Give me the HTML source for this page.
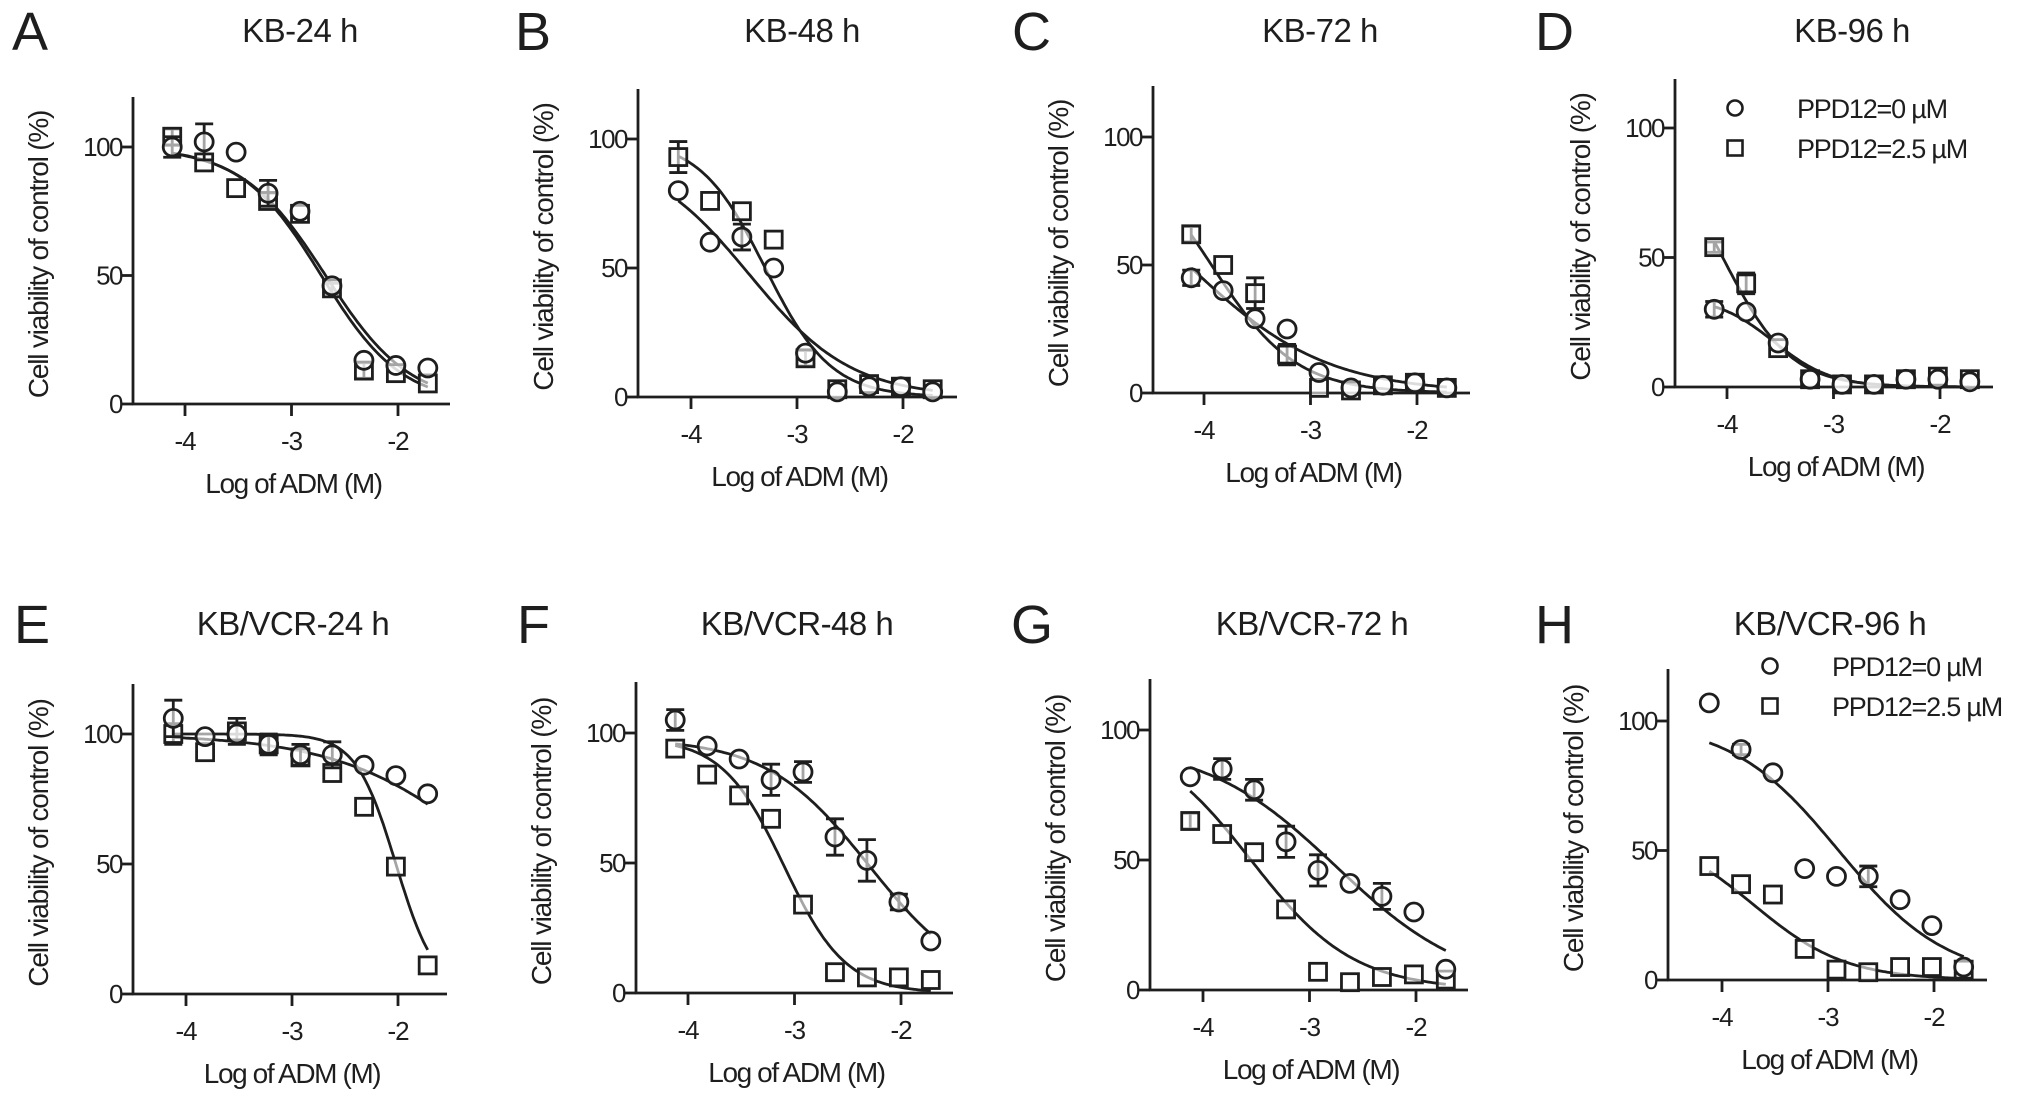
<!DOCTYPE html>
<html><head><meta charset="utf-8"><style>
html,body{margin:0;padding:0;background:#fff;}
svg{display:block;}
text{font-family:"Liberation Sans",Arial,sans-serif;fill:#1e1e1e;}
</style></head><body>
<svg id="fig" width="2031" height="1115" viewBox="0 0 2031 1115" xmlns="http://www.w3.org/2000/svg"></svg>
<script>
// shared x values (log ADM, M)
const xLog = [-4.12, -3.82, -3.52, -3.22, -2.92, -2.62, -2.32, -2.02, -1.72];
const xTicks = [-4, -3, -2];
const yTicks = [0, 50, 100];
const panelLetters = ["A","B","C","D","E","F","G","H"];
const panelTitles = ["KB-24 h","KB-48 h","KB-72 h","KB-96 h","KB/VCR-24 h","KB/VCR-48 h","KB/VCR-72 h","KB/VCR-96 h"];
const legendLabels = ["PPD12=0 \u00b5M","PPD12=2.5 \u00b5M"];

// circle series (PPD12 = 0 µM)
const circA = [100, 102, 98, 82, 75, 46, 17, 15, 14];
const circB = [80, 60, 62, 50, 17, 2, 4, 4, 2];
const circC = [45, 40, 29, 25, 8, 2, 3, 4, 2];
const circD = [30, 29, 17, 3, 1, 1, 3, 3, 2];
const circE = [106, 99, 100, 96, 92, 92, 88, 84, 77];
const circF = [105, 95, 90, 82, 85, 60, 51, 35, 20];
const circG = [82, 85, 77, 57, 46, 41, 36, 30, 8];
const circH = [107, 89, 80, 43, 40, 40, 31, 21, 5];
// square series (PPD12 = 2.5 µM)
const sqA = [104, 94, 84, 79, 74, 45, 13, 12, 8];
const sqB = [93, 76, 72, 61, 15, 3, 5, 4, 3];
const sqC = [62, 50, 39, 15, 2, 1, 3, 4, 2];
const sqD = [54, 40, 15, 3, 1, 1, 3, 4, 3];
const sqE = [100, 93, 101, 96, 91, 85, 72, 49, 11];
const sqF = [94, 84, 76, 67, 34, 8, 6, 6, 5];
const sqG = [65, 60, 53, 31, 7, 3, 5, 6, 4];
const sqH = [44, 37, 33, 12, 4, 3, 5, 5, 4];
// error bars (SD)
const errCircA = [4, 7, 0, 5, 0, 0, 0, 0, 0];
const errSqA = [3, 0, 0, 3, 0, 2, 3, 0, 0];
const errCircB = [0, 0, 5, 0, 0, 0, 0, 0, 0];
const errSqB = [6, 0, 0, 0, 3, 0, 0, 0, 0];
const errCircC = [3, 0, 0, 0, 0, 0, 0, 0, 0];
const errSqC = [3, 0, 6, 4, 0, 0, 0, 0, 0];
const errCircD = [3, 0, 0, 0, 0, 0, 0, 0, 0];
const errSqD = [2, 4, 0, 0, 0, 0, 0, 0, 0];
const errCircE = [7, 0, 0, 4, 4, 5, 0, 0, 0];
const errSqE = [4, 0, 5, 0, 0, 0, 0, 0, 0];
const errCircF = [4, 0, 0, 6, 4, 7, 8, 3, 0];
const errSqF = [0, 0, 0, 0, 0, 0, 0, 0, 0];
const errCircG = [0, 4, 4, 6, 6, 0, 5, 0, 0];
const errSqG = [3, 0, 0, 0, 0, 0, 0, 0, 0];
const errCircH = [0, 2, 0, 0, 0, 4, 0, 0, 0];
const errSqH = [0, 0, 0, 0, 0, 0, 0, 0, 0];
// fitted 4PL curve parameters: [top, bottom, logIC50, hill]
const fitCircA = [100, 0, -2.68, 1.1];
const fitSqA = [100, 0, -2.72, 1.15];
const fitCircB = [95, 0, -3.45, 0.9];
const fitSqB = [100, 0, -3.3, 1.4];
const fitCircC = [100, 0, -4.15, 0.67];
const fitSqC = [100, 0, -3.93, 1.1];
const fitCircD = [35, 0, -3.56, 1.6];
const fitSqD = [100, 0, -4.04, 1.375];
const fitCircE = [100, 0, -1.0, 0.6];
const fitSqE = [100, 0, -2.02, 2.3];
const fitCircF = [98, 0, -2.3, 0.9];
const fitSqF = [98, 0, -3.1, 1.5];
const fitCircG = [95, 0, -2.75, 0.7];
const fitSqG = [100, 0, -3.55, 0.9];
const fitCircH = [100, 0, -2.9, 0.85];
const fitSqH = [58, 0, -3.7, 1.0];

const circSeries = [circA, circB, circC, circD, circE, circF, circG, circH];
const sqSeries = [sqA, sqB, sqC, sqD, sqE, sqF, sqG, sqH];
const errCirc = [errCircA, errCircB, errCircC, errCircD, errCircE, errCircF, errCircG, errCircH];
const errSq = [errSqA, errSqB, errSqC, errSqD, errSqE, errSqF, errSqG, errSqH];
const fitCirc = [fitCircA, fitCircB, fitCircC, fitCircD, fitCircE, fitCircF, fitCircG, fitCircH];
const fitSq = [fitSqA, fitSqB, fitSqC, fitSqD, fitSqE, fitSqF, fitSqG, fitSqH];

// layout (pixel geometry per panel)
const layout = [
 {ax:133, top:97, y0:404, y100:147, xm4:185, xm2:398, xEnd:450, lx:12, ty:30, tcx:300, legend:false},
 {ax:638, top:89, y0:397, y100:139, xm4:691, xm2:903, xEnd:957, lx:515, ty:30, tcx:802, legend:false},
 {ax:1153, top:86, y0:393, y100:137, xm4:1204, xm2:1417, xEnd:1470, lx:1012, ty:30, tcx:1320, legend:false},
 {ax:1675, top:79, y0:387, y100:128, xm4:1727, xm2:1940, xEnd:1993, lx:1535, ty:30, tcx:1852, legend:true, lgx:1735, lgy:108},
 {ax:133, top:684, y0:994, y100:734, xm4:186, xm2:398, xEnd:447, lx:14, ty:623, tcx:293, legend:false},
 {ax:636, top:682, y0:993, y100:733, xm4:688, xm2:901, xEnd:953, lx:517, ty:623, tcx:797, legend:false},
 {ax:1150, top:679, y0:990, y100:730, xm4:1203, xm2:1416, xEnd:1468, lx:1011, ty:623, tcx:1312, legend:false},
 {ax:1668, top:669, y0:980, y100:721, xm4:1722, xm2:1934, xEnd:1987, lx:1535, ty:623, tcx:1830, legend:true, lgx:1770, lgy:666}
];
const NS = "http://www.w3.org/2000/svg";
const svg = document.getElementById('fig');
function mk(tag, attrs, parent){
  const e = document.createElementNS(NS, tag);
  for (const k in attrs) e.setAttribute(k, attrs[k]);
  (parent||svg).appendChild(e);
  return e;
}
function fourPL(p, x){ return p[1] + (p[0]-p[1])/(1+Math.pow(10, p[3]*(x-p[2]))); }
const SW = 2.8;

layout.forEach((L, i) => {
  const g = mk('g', {});
  
  
  const sx = v => L.xm4 + (v + 4) * (L.xm2 - L.xm4) / 2;
  const sy = v => L.y0 - v * (L.y0 - L.y100) / 100;
  const cx = (L.ax + L.xEnd) / 2;

  const letter = mk('text', {x:L.lx, y:L.ty+20, 'font-size':54}, g);
  letter.textContent = panelLetters[i];
  
  

  const title = mk('text', {x:L.tcx, y:L.ty+12, 'font-size':33, 'text-anchor':'middle', 'letter-spacing':'-0.5'}, g);
  title.textContent = panelTitles[i];
  
  

  // axes
  const yAxis = mk('line', {x1:L.ax, y1:L.top, x2:L.ax, y2:L.y0+1, stroke:'#1e1e1e', 'stroke-width':SW}, g);
  
  
  const xAxis = mk('line', {x1:L.ax-1, y1:L.y0, x2:L.xEnd, y2:L.y0, stroke:'#1e1e1e', 'stroke-width':SW}, g);
  
  

  yTicks.forEach(t => {
    const y = sy(t);
    mk('line', {x1:L.ax-11, y1:y, x2:L.ax, y2:y, stroke:'#1e1e1e', 'stroke-width':SW}, g);
    const tl = mk('text', {x:L.ax-11, y:y+9, 'font-size':26, 'text-anchor':'end', 'letter-spacing':'-1.5'}, g);
    tl.textContent = t;
    
    
  });
  xTicks.forEach(t => {
    const x = sx(t);
    mk('line', {x1:x, y1:L.y0, x2:x, y2:L.y0+12, stroke:'#1e1e1e', 'stroke-width':SW}, g);
    const tl = mk('text', {x:x, y:L.y0+46, 'font-size':26, 'text-anchor':'middle', 'letter-spacing':'-1'}, g);
    tl.textContent = t;
    
    
  });
  const xl = mk('text', {x:cx+2, y:L.y0+89, 'font-size':28, 'text-anchor':'middle', 'letter-spacing':'-1.4'}, g);
  xl.textContent = 'Log of ADM (M)';
  
  
  const ycy = (L.top + L.y0) / 2 + 4, ycx = L.ax - 95;
  const yl = mk('text', {x:ycx, y:ycy, 'font-size':28, 'text-anchor':'middle', 'letter-spacing':'-1.2', transform:`rotate(-90 ${ycx} ${ycy}) translate(0 10)`}, g);
  yl.textContent = 'Cell viability of control (%)';
  
  

  // curves
  [fitCirc[i], fitSq[i]].forEach((p, k) => {
    let d = '';
    for (let s = 0; s <= 120; s++) {
      const xv = xLog[0] + s * (xLog[xLog.length-1] - xLog[0]) / 120;
      d += (s ? 'L' : 'M') + sx(xv).toFixed(1) + ',' + sy(fourPL(p, xv)).toFixed(1);
    }
    const c = mk('path', {d:d, fill:'none', stroke:'#1e1e1e', 'stroke-width':SW}, g);
    
    
  });

  // error bars + markers
  function errBar(x, v, e){
    if (!e) return;
    const y1 = sy(v + e), y2 = sy(v - e);
    const eb = mk('path', {d:`M${x},${y1}L${x},${y2}M${x-9},${y1}L${x+9},${y1}M${x-9},${y2}L${x+9},${y2}`, stroke:'#1e1e1e', 'stroke-width':SW, fill:'none'}, g);
    
    
  }
  sqSeries[i].forEach((v, j) => {
    const x = sx(xLog[j]), y = sy(v);
    errBar(x, v, errSq[i][j]);
    const m = mk('rect', {x:x-8.5, y:y-8.5, width:17, height:17, fill:'#fff', 'fill-opacity':0.6, stroke:'#1e1e1e', 'stroke-width':SW}, g);
    
    
  });
  circSeries[i].forEach((v, j) => {
    const x = sx(xLog[j]), y = sy(v);
    errBar(x, v, errCirc[i][j]);
    const m = mk('circle', {cx:x, cy:y, r:9, fill:'#fff', 'fill-opacity':0.6, stroke:'#1e1e1e', 'stroke-width':SW}, g);
    
    
  });

  if (L.legend) {
    const lg = mk('g', {}, g);
    
    
    const c1 = mk('circle', {cx:L.lgx, cy:L.lgy, r:7.5, fill:'none', stroke:'#1e1e1e', 'stroke-width':2.6}, lg);
    
    
    const s1 = mk('rect', {x:L.lgx-7.5, y:L.lgy+40-7.5, width:15, height:15, fill:'none', stroke:'#1e1e1e', 'stroke-width':2.6}, lg);
    
    
    legendLabels.forEach((lab, k) => {
      const t = mk('text', {x:L.lgx+62, y:L.lgy+10+40*k, 'font-size':27, 'letter-spacing':'-1.2'}, lg);
      t.textContent = lab;
      
      
    });
  }
});
</script>
</body></html>
